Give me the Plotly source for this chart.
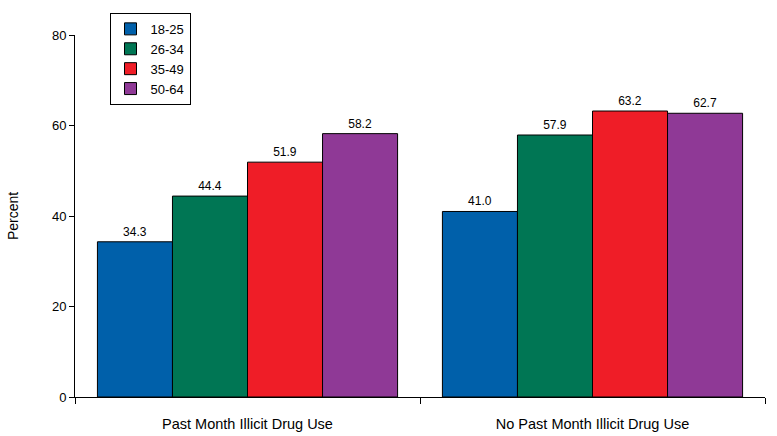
import plotly.graph_objects as go

categories = ["Past Month Illicit Drug Use", "No Past Month Illicit Drug Use"]
age_groups = ["18-25", "26-34", "35-49", "50-64"]
values = {
    "18-25": [34.3, 41.0],
    "26-34": [44.4, 57.9],
    "35-49": [51.9, 63.2],
    "50-64": [58.2, 62.7],
}
colors = {
    "18-25": "#0060AA",
    "26-34": "#007654",
    "35-49": "#EF1D27",
    "50-64": "#8F3996",
}
y_ticks = [0, 20, 40, 60, 80]

FONT = "Liberation Sans, Arial, sans-serif"

fig = go.Figure()
for g in age_groups:
    fig.add_trace(go.Bar(
        name=g,
        x=categories,
        y=values[g],
        marker=dict(color=colors[g], line=dict(color="black", width=1)),
        text=values[g],
        texttemplate="%{y:.1f}",
        textposition="outside",
        textfont=dict(size=12, color="black", family=FONT),
        cliponaxis=False,
    ))

fig.update_layout(
    width=777, height=436,
    margin=dict(l=75, r=12, t=35, b=39),
    paper_bgcolor="white", plot_bgcolor="white",
    barmode="group", bargap=0.13, bargroupgap=0,
    font=dict(family=FONT, size=13, color="black"),
    showlegend=True,
    legend=dict(
        x=0.05, y=1.061, xanchor="left", yanchor="top",
        bordercolor="black", borderwidth=1, bgcolor="white",
        font=dict(size=13, family=FONT),
        itemwidth=30,
    ),
    xaxis=dict(
        showline=True, linecolor="black", linewidth=1,
        ticks="outside", tickson="boundaries", ticklen=6, tickcolor="black",
        tickfont=dict(size=14.5, family=FONT),
        ticklabelstandoff=14,
        showgrid=False, automargin=False,
    ),
    yaxis=dict(
        range=[0, 80], tickvals=y_ticks,
        showline=True, linecolor="black", linewidth=1,
        ticks="outside", ticklen=5, tickcolor="black",
        tickfont=dict(size=13, family=FONT),
        showgrid=False, zeroline=False, automargin=False,
        title=dict(text="Percent", font=dict(size=14, family=FONT), standoff=30),
    ),
)

fig.write_html("out.html")
